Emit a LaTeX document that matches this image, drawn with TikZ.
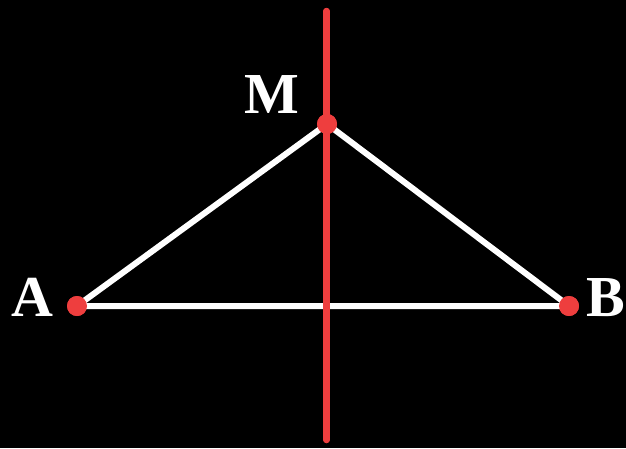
\documentclass[tikz,border=0pt]{standalone}
\usepackage{fontspec}
\newfontfamily\lblfont{Liberation Serif}
\definecolor{ptred}{RGB}{238,62,62}
\begin{document}
\begin{tikzpicture}[x=1pt,y=-1pt,
  seg/.style={draw=white,line width=6pt},
  axis/.style={draw=ptred,line width=6.5pt,line cap=round},
  dot/.style={circle,fill=ptred,inner sep=0pt,minimum size=20pt},
  lbl/.style={text=white,font=\lblfont\fontsize{58}{60}\selectfont\bfseries,anchor=base,inner sep=0pt}]
\fill[black] (0,0) rectangle (626,448);
\useasboundingbox (0,0) rectangle (626,448);
\coordinate (T) at (326.5,11);
\coordinate (Bt) at (326.5,440);
\node[dot] (A) at (77,306) {};
\node[dot] (B) at (569,306) {};
\node[dot] (M) at (327,124) {};
\draw[seg] (A.center) -- (M.center) -- (B.center) -- cycle;
\draw[axis] (T) -- (Bt);
\node[dot] at (A.center) {};
\node[dot] at (B.center) {};
\node[dot] at (M.center) {};
\node[lbl] (la) at (32,316) {A};
\node[lbl] (lb) at (606,316) {B};
\node[lbl] (lm) at (271.5,113) {M};
\end{tikzpicture}
\end{document}
